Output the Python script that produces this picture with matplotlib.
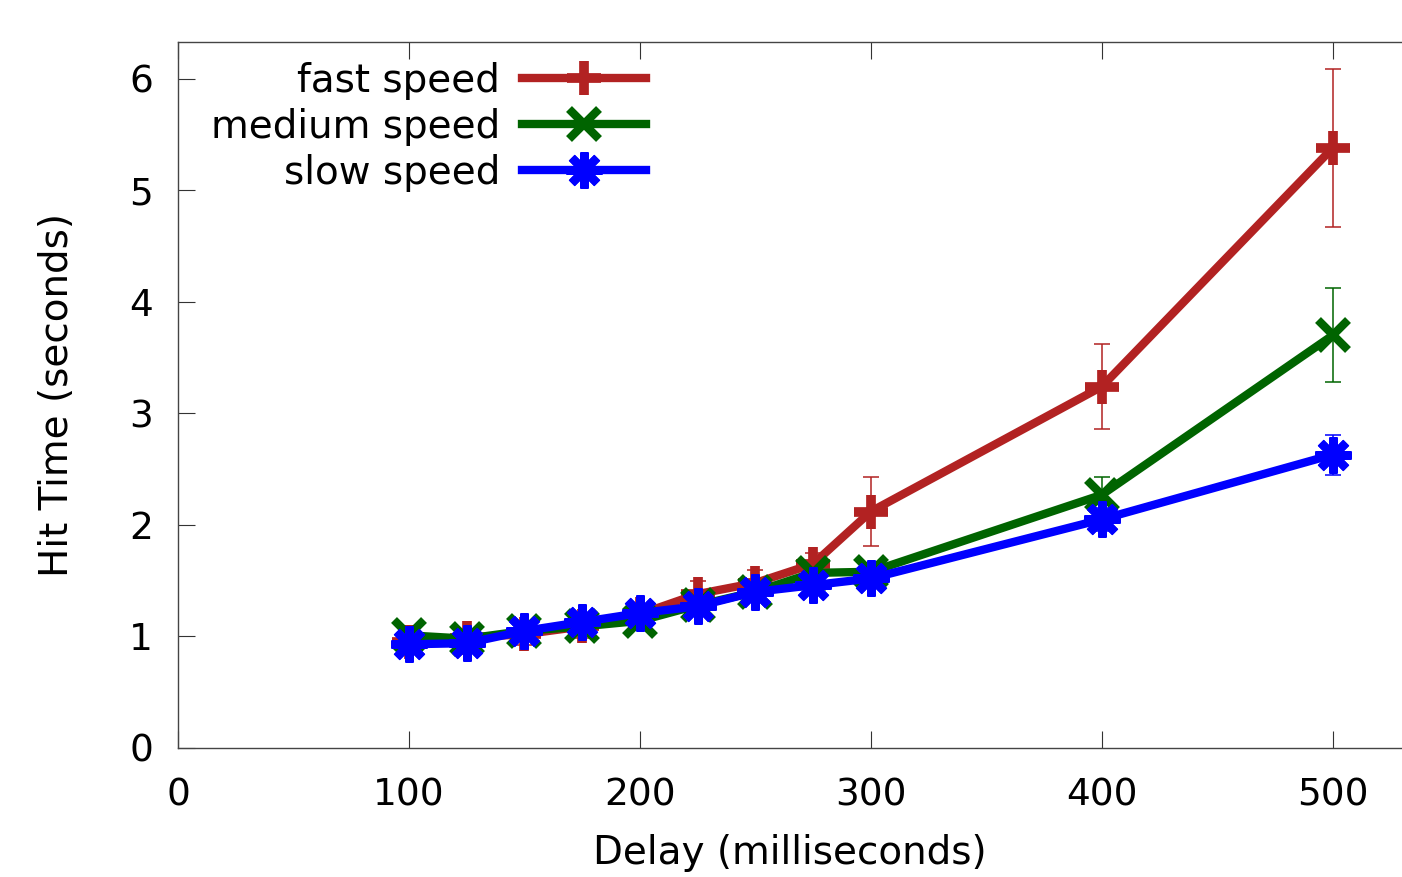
import matplotlib.pyplot as plt
from matplotlib.lines import Line2D

# delay in ms
delay = [100, 125, 150, 175, 200, 225, 250, 275, 300, 400, 500]

fast_mean = [0.95, 0.99, 1.02, 1.09, 1.20, 1.38, 1.48, 1.65, 2.12, 3.24, 5.38]
fast_err = [0.05, 0.08, 0.10, 0.10, 0.06, 0.12, 0.12, 0.10, 0.31, 0.38, 0.71]

medium_mean = [1.01, 0.98, 1.05, 1.09, 1.14, 1.28, 1.40, 1.57, 1.58, 2.27, 3.70]
medium_err = [0.05, 0.05, 0.06, 0.06, 0.05, 0.06, 0.07, 0.08, 0.07, 0.16, 0.42]

slow_mean = [0.93, 0.94, 1.05, 1.13, 1.21, 1.27, 1.40, 1.46, 1.52, 2.05, 2.63]
slow_err = [0.04, 0.04, 0.05, 0.05, 0.05, 0.05, 0.06, 0.06, 0.06, 0.10, 0.18]

labels = ["fast speed", "medium speed", "slow speed"]

RED = "#b22222"
GREEN = "#006400"
BLUE = "#0000ff"
STAR = (8, 2, 0)

plt.rcParams['font.family'] = ['DejaVu Sans']

W, H = 1402, 877
fig = plt.figure(figsize=(W / 100, H / 100), dpi=100)
ax = fig.add_axes([178 / W, (H - 748) / H, (W - 178) / W, (748 - 42) / H])

series = [
    (fast_mean, fast_err, RED, "+", 25, 7),
    (medium_mean, medium_err, GREEN, "x", 22, 6),
    (slow_mean, slow_err, BLUE, STAR, 26, 6),
]
# thin error bars first, then thick lines and markers on top
for mean, err, col, mk, ms, mw in series:
    ax.errorbar(delay, mean, yerr=err, fmt='none', ecolor=col,
                elinewidth=1.1, capsize=6, capthick=1.1)
for (mean, err, col, mk, ms, mw), lab in zip(series, labels):
    ax.plot(delay, mean, color=col, lw=6, marker=mk, ms=ms,
            markeredgewidth=mw, label=lab)

ax.set_xlim(0, 530)
ax.set_ylim(0, 6.33)
ax.set_xticks([0, 100, 200, 300, 400, 500])
ax.set_yticks([0, 1, 2, 3, 4, 5, 6])

ax.spines['right'].set_visible(False)
for s in ['left', 'top', 'bottom']:
    ax.spines[s].set_color('#444444')
    ax.spines[s].set_linewidth(1.0)
ax.tick_params(axis='both', direction='in', length=12, width=0.8,
               color='#333333', labelsize=27)
ax.tick_params(axis='x', top=True, pad=21)
ax.tick_params(axis='y', pad=18)

ax.set_xlabel("Delay (milliseconds)", fontsize=28, labelpad=15)
ax.set_ylabel("Hit Time (seconds)", fontsize=28, labelpad=38)

handles = [Line2D([], [], color=c, lw=6, marker=m, ms=ms, markeredgewidth=mw)
           for (_, _, c, m, ms, mw) in series]
ax.legend(handles, labels, loc='upper right', markerfirst=False,
          frameon=False, fontsize=28, handlelength=3.2, handletextpad=0.55,
          labelspacing=0.2, borderpad=0, borderaxespad=0,
          bbox_to_anchor=(646 / W, 1 - 62 / H), bbox_transform=fig.transFigure)

plt.savefig("out.png", dpi=100)
